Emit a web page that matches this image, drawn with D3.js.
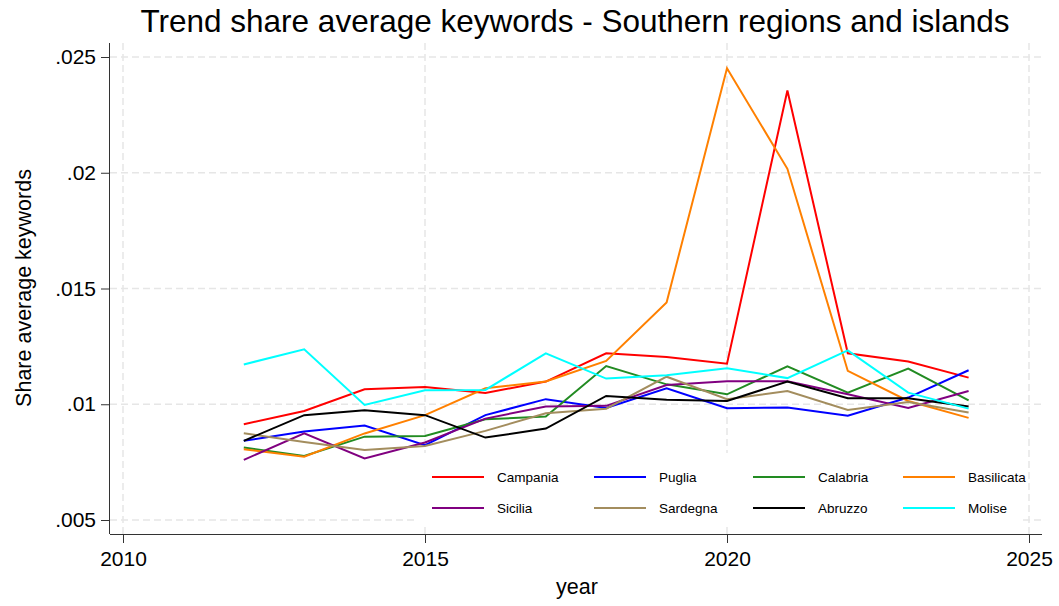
<!DOCTYPE html>
<html><head><meta charset="utf-8">
<script src="https://cdn.jsdelivr.net/npm/d3@7"></script>
<style>
html,body{margin:0;padding:0;background:#fff;}
svg{display:block;font-family:"Liberation Sans",Arial,Helvetica,sans-serif;}
</style></head>
<body><svg id="chart" width="1059" height="606"></svg>
<script>
const years = [2012,2013,2014,2015,2016,2017,2018,2019,2020,2021,2022,2023,2024];
const regions = ["Campania","Puglia","Calabria","Basilicata","Sicilia","Sardegna","Abruzzo","Molise"];
const campania   = [0.00914,0.00971,0.01065,0.01075,0.01049,0.01098,0.0122,0.01204,0.01175,0.02355,0.0122,0.01185,0.01115];
const puglia     = [0.00842,0.00882,0.00908,0.00823,0.00953,0.01022,0.00984,0.01069,0.00983,0.00986,0.0095,0.01029,0.01147];
const calabria   = [0.00813,0.00777,0.0086,0.00863,0.00935,0.00947,0.01165,0.01086,0.01043,0.01164,0.0105,0.01154,0.01017];
const basilicata = [0.00806,0.00773,0.00874,0.00953,0.01069,0.01098,0.01187,0.0144,0.02451,0.02017,0.01144,0.01014,0.00941];
const sicilia    = [0.0076,0.00874,0.00766,0.00835,0.00938,0.0099,0.00993,0.01083,0.01099,0.01099,0.01043,0.00984,0.01057];
const sardegna   = [0.00875,0.00837,0.00802,0.0082,0.00885,0.00961,0.00981,0.01119,0.01022,0.01057,0.00975,0.0101,0.00964];
const abruzzo    = [0.00842,0.00953,0.00974,0.00953,0.00856,0.00895,0.01036,0.01019,0.01014,0.01098,0.01026,0.01026,0.0099];
const molise     = [0.01172,0.01237,0.00997,0.0106,0.01062,0.0122,0.01111,0.01125,0.01155,0.01113,0.01233,0.0105,0.00981];
const seriesValues = [campania,puglia,calabria,basilicata,sicilia,sardegna,abruzzo,molise];
const colors = ["#ff0000","#0000ff","#228b22","#ff8000","#800080","#a38d5e","#000000","#00ffff"];
const xTicks = [2010,2015,2020,2025];
const yTicks = [0.005,0.01,0.015,0.02,0.025];
const yTickLabels = [".005",".01",".015",".02",".025"];
const titleText = "Trend share average keywords - Southern regions and islands";
const xTitle = "year";
const yTitle = "Share average keywords";

const svg = d3.select("#chart");
const plot = {left:110, right:1042, top:43, bottom:534};
const x = d3.scaleLinear().domain([2010,2025]).range([123,1029]);
const y = d3.scaleLinear().domain([0.005,0.025]).range([520,57]);

// gridlines
const grid = svg.append("g");
grid.selectAll("line.h").data(yTicks).join("line")
  .attr("x1",plot.left).attr("x2",plot.right)
  .attr("y1",d=>y(d)).attr("y2",d=>y(d))
  .attr("stroke","#e6e6e6").attr("stroke-width",1.5).attr("stroke-dasharray","7,4");
grid.selectAll("line.v").data(xTicks).join("line")
  .attr("x1",d=>x(d)).attr("x2",d=>x(d))
  .attr("y1",plot.top).attr("y2",plot.bottom)
  .attr("stroke","#e6e6e6").attr("stroke-width",1.5).attr("stroke-dasharray","7,4");

// lines
const line = d3.line().x((d,i)=>x(years[i])).y(d=>y(d));
svg.append("g").selectAll("path").data(seriesValues).join("path")
  .attr("d",d=>line(d)).attr("fill","none")
  .attr("stroke",(d,i)=>colors[i]).attr("stroke-width",2).attr("stroke-linejoin","miter");

// legend
const lg = svg.append("g");
lg.append("rect").attr("x",418).attr("y",453).attr("width",604).attr("height",72).attr("fill","#fff");
const colX = [432,594,753,903];
const rowY = [477,508];
regions.forEach((r,i)=>{
  const cx = colX[i%4], cy = rowY[Math.floor(i/4)];
  lg.append("line").attr("x1",cx).attr("x2",cx+52).attr("y1",cy).attr("y2",cy)
    .attr("stroke",colors[i]).attr("stroke-width",2);
  lg.append("text").attr("x",cx+65).attr("y",cy).attr("dy","0.35em")
    .attr("font-size",13.5).attr("fill","#000").text(r);
});

// axes
const xAxis = d3.axisBottom(x).tickValues(xTicks).tickFormat(d3.format("d")).tickSize(9).tickSizeOuter(0);
const gx = svg.append("g").attr("transform",`translate(0,${plot.bottom})`).call(xAxis);
gx.select(".domain").attr("d",`M${plot.left},0.5H${plot.right}`).attr("stroke","#333");
gx.selectAll(".tick line").attr("stroke","#333");
gx.selectAll(".tick text").attr("font-size",21).attr("font-family","Liberation Sans, Arial, sans-serif").attr("fill","#000").attr("dy","0.95em");

const yAxis = d3.axisLeft(y).tickValues(yTicks).tickFormat((d,i)=>yTickLabels[i]).tickSize(9).tickSizeOuter(0);
const gy = svg.append("g").attr("transform",`translate(${plot.left},0)`).call(yAxis);
gy.select(".domain").attr("d",`M-0.5,${plot.top}V${plot.bottom}`).attr("stroke","#333");
gy.selectAll(".tick line").attr("stroke","#333");
gy.selectAll(".tick text").attr("font-size",21).attr("font-family","Liberation Sans, Arial, sans-serif").attr("fill","#000").attr("x",-14);

// titles
svg.append("text").attr("x",575).attr("y",32).attr("text-anchor","middle")
  .attr("font-size",31.5).attr("fill","#000").text(titleText);
svg.append("text").attr("x",577).attr("y",594).attr("text-anchor","middle")
  .attr("font-size",21.5).attr("fill","#000").text(xTitle);
svg.append("text").attr("transform","translate(31,288) rotate(-90)").attr("text-anchor","middle")
  .attr("font-size",21.5).attr("fill","#000").text(yTitle);
</script></body></html>
